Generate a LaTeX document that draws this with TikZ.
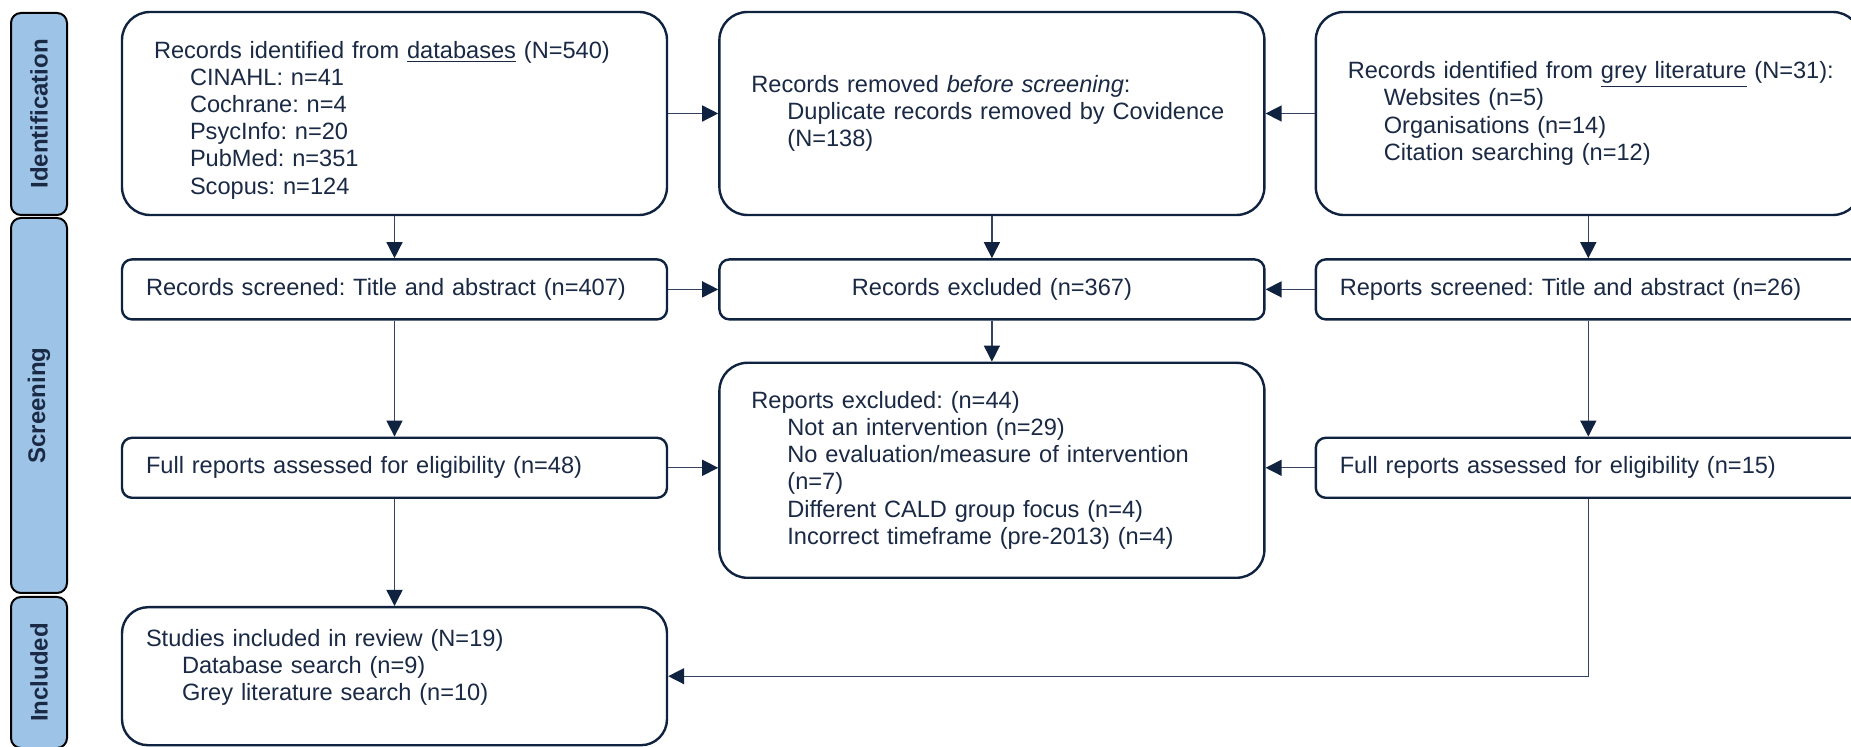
\documentclass[tikz,border=0pt]{standalone}
\usepackage{fontspec}
\setmainfont{Liberation Sans}
\usetikzlibrary{arrows.meta, positioning}
\definecolor{prnavy}{HTML}{0F2341}
\definecolor{prline}{HTML}{34445E}
\definecolor{prtext}{HTML}{1A2944}
\definecolor{prbar}{HTML}{9DC3E6}
\newcommand{\subind}{\hspace*{18pt}}
\frenchspacing

\begin{document}
\begin{tikzpicture}[
    node distance=21pt and 25pt,
    bigbox/.style={draw=prnavy, line width=1.2pt, rounded corners=14pt, fill=white, text=prtext, align=left, inner xsep=16pt, text width=240.5pt, font=\fontsize{11.8}{13.6}\selectfont},
    smallbox/.style={draw=prnavy, line width=1.2pt, rounded corners=5pt, fill=white, text=prtext, align=left, inner xsep=12pt, text width=248.5pt, minimum height=30pt, font=\fontsize{11.8}{13.6}\selectfont},
    phase/.style={draw=black, line width=1pt, rounded corners=5pt, fill=prbar, rotate=90, minimum height=28pt, inner sep=0pt, text=prtext, font=\fontsize{12}{14}\selectfont\bfseries},
    arrow/.style={-{Triangle[length=8pt, width=8pt, color=prnavy]}, line width=0.7pt, draw=prline}
]
\useasboundingbox (0,0) rectangle (925.5pt,-373.5pt);

% Phase bars
\node[phase, minimum width=101pt] (idbar) at (19.5pt,-57pt) {Identification};
\node[phase, minimum width=187.5pt] (scbar) at (19.5pt,-202.75pt) {Screening};
\node[phase, minimum width=75.5pt] (inbar) at (19.5pt,-336.25pt) {Included};

% Identification
\node[bigbox, minimum height=101.5pt] (dbrec) at (197.25pt,-56.75pt) {\rule{0pt}{15pt}Records identified from \underline{databases} (N=540)\\
  \subind CINAHL: n=41\\ \subind Cochrane: n=4\\ \subind PsycInfo: n=20\\ \subind PubMed: n=351\\ \subind Scopus: n=124};
\node[bigbox, minimum height=101.5pt, right=of dbrec] (removed) {Records removed \textit{before screening}:\\
  \subind Duplicate records removed by Covidence\\ \subind (N=138)};
\node[bigbox, minimum height=101.5pt, right=24.5pt of removed] (greyrec) {\mbox{Records identified from \underline{grey literature} (N=31):}\\
  \subind Websites (n=5)\\ \subind Organisations (n=14)\\ \subind Citation searching (n=12)};

% Screening
\node[smallbox, below=of dbrec] (screened) {Records screened: Title and abstract (n=407)};
\node[smallbox, align=center, below=of removed] (recexcl) {Records excluded (n=367)};
\node[smallbox, below=of greyrec] (greyscr) {Reports screened: Title and abstract (n=26)};

\node[smallbox, below=58pt of screened] (fullrep) {Full reports assessed for eligibility (n=48)};
\node[bigbox, minimum height=107.5pt, below=20.5pt of recexcl] (repexcl) {Reports excluded: (n=44)\\
  \subind Not an intervention (n=29)\\ \subind No evaluation/measure of intervention\\ \subind (n=7)\\
  \subind Different CALD group focus (n=4)\\ \subind Incorrect timeframe (pre-2013) (n=4)};
\node[smallbox, below=58pt of greyscr] (greyfull) {Full reports assessed for eligibility (n=15)};

% Included
\node[bigbox, rounded corners=13pt, inner xsep=12pt, text width=248.5pt, minimum height=69pt, below=53.5pt of fullrep] (included) {Studies included in review (N=19)\\
  \subind Database search (n=9)\\ \subind Grey literature search (n=10)\rule[-11pt]{0pt}{11pt}};

% Connections
\draw[arrow] (dbrec) -- (screened);
\draw[arrow] (screened) -- (fullrep);
\draw[arrow] (fullrep) -- (included);
\draw[arrow] (removed) -- (recexcl);
\draw[arrow] (recexcl) -- (repexcl);
\draw[arrow] (greyrec) -- (greyscr);
\draw[arrow] (greyscr) -- (greyfull);

\draw[arrow] (dbrec) -- (removed);
\draw[arrow] (greyrec) -- (removed);
\draw[arrow] (screened) -- (recexcl);
\draw[arrow] (greyscr) -- (recexcl);
\draw[arrow] (fullrep.east) -- (fullrep.east -| repexcl.west);
\draw[arrow] (greyfull.west) -- (greyfull.west -| repexcl.east);
\draw[arrow] (greyfull.south) |- (included.east);

\end{tikzpicture}
\end{document}
